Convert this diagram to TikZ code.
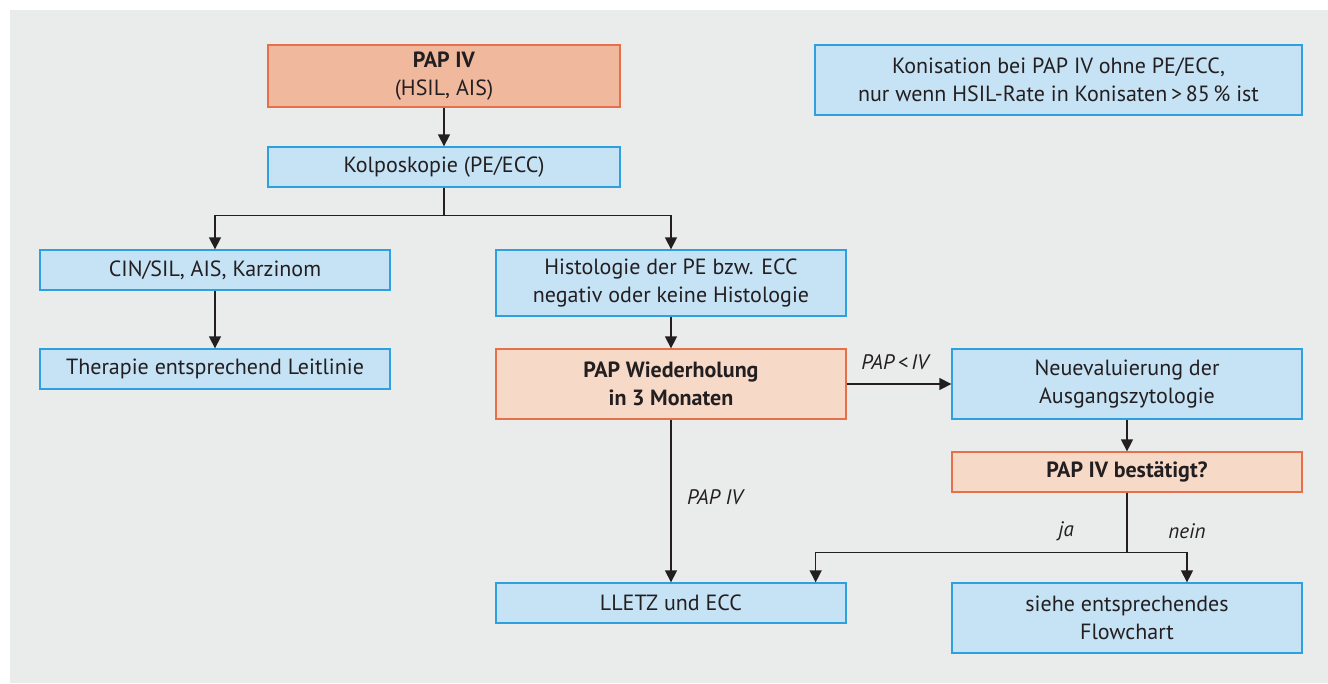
\documentclass[tikz,border=0pt]{standalone}
\usepackage{fontspec}
\setmainfont{PT Sans}
\usetikzlibrary{arrows.meta}
\definecolor{bgc}{HTML}{EAEBEB}
\definecolor{bluef}{HTML}{C6E2F5}
\definecolor{blued}{HTML}{2E9FDF}
\definecolor{salf}{HTML}{F0B99E}
\definecolor{sallf}{HTML}{F7D9C8}
\definecolor{sald}{HTML}{E5704A}
\definecolor{txt}{HTML}{231F20}
\tikzset{
  box/.style={draw=blued, fill=bluef, line width=1.3pt, minimum width=350pt, align=center, inner sep=0pt, text=txt, font=\fontsize{22}{28}\selectfont},
  obox/.style={box, draw=sald, fill=salf},
  lobox/.style={box, draw=sald, fill=sallf},
  conn/.style={draw=txt, line width=1.3pt, -{Triangle[width=12pt,length=12pt]}},
  lbl/.style={text=txt, font=\fontsize{21}{24}\selectfont\itshape, inner sep=0pt}
}
\begin{document}
\begin{tikzpicture}[x=1pt,y=-1pt]
\useasboundingbox (0,0) rectangle (1328,683);
\fill[bgc] (10,10) rectangle (1328,683);
\node[obox, minimum width=352pt, minimum height=62pt] (papiv) at (444,76) {\textbf{PAP IV}\\(HSIL, AIS)};
\node[box, minimum width=352pt, minimum height=40pt] (kolpo) at (444,167) {Kolposkopie (PE/ECC)};
\node[box, minimum width=487pt, minimum height=70pt] (koni) at (1058.5,80) {Konisation bei PAP IV ohne PE/ECC,\\nur wenn HSIL-Rate in Konisaten\,>\,85\,\% ist};
\node[box, minimum height=40pt] (cin) at (215,270) {CIN/SIL, AIS, Karzinom};
\node[box, minimum height=66pt] (histo) at (671,283) {Histologie der PE bzw. ECC\\negativ oder keine Histologie};
\node[box, minimum height=40pt] (thera) at (215,369) {Therapie entsprechend Leitlinie};
\node[lobox, minimum height=70pt] (papw) at (671,384) {\textbf{PAP Wiederholung}\\\textbf{in 3 Monaten}};
\node[box, minimum height=70pt] (neu) at (1127,384) {Neuevaluierung der\\Ausgangszytologie};
\node[lobox, minimum height=40pt] (best) at (1127,472) {\textbf{PAP IV bestätigt?}};
\node[box, minimum height=40pt] (lletz) at (671,603) {LLETZ und ECC};
\node[box, minimum height=70pt] (siehe) at (1127,618) {siehe entsprechendes\\Flowchart};
\draw[conn] (papiv) -- (kolpo);
\draw[conn] (kolpo.south) -- ++(0,28) -| (cin.north);
\draw[conn] (kolpo.south) -- ++(0,28) -| (histo.north);
\draw[conn] (cin) -- (thera);
\draw[conn] (histo) -- (papw);
\draw[conn] (papw) -- (neu);
\draw[conn] (neu) -- (best);
\draw[conn] (papw) -- (lletz);
\draw[conn] (best.south) -- ++(0,60) -| ([xshift=-31pt]lletz.north east);
\draw[conn] (best.south) -- ++(0,60) -| ([xshift=60pt]siehe.north);
\node[lbl] (l1) at (895,362) {PAP\,<\,IV};
\node[lbl] (l2) at (715,497) {PAP IV};
\node[lbl] (l3) at (1066,531) {ja};
\node[lbl] (l4) at (1187,531) {nein};
\end{tikzpicture}
\end{document}
